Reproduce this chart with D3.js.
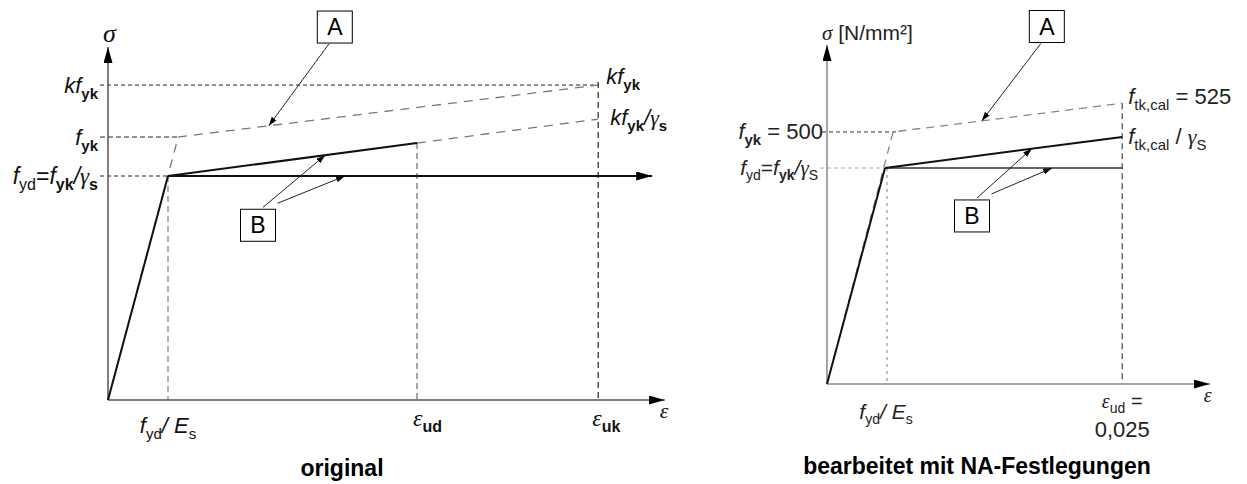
<!DOCTYPE html>
<html>
<head>
<meta charset="utf-8">
<script src="https://cdnjs.cloudflare.com/ajax/libs/d3/7.8.5/d3.min.js"></script>
<style>
body { margin: 0; background: #fff; }
svg text { font-family: "Liberation Sans", Arial, sans-serif; white-space: pre; }
.greek { font-family: "Liberation Serif", "DejaVu Serif", serif; font-style: italic; }
</style>
</head>
<body>
<svg id="chart" width="1247" height="484"></svg>
<script>
// schematic units: strain in multiples of fyd/Es, stress in multiples of fyd

// ---- left diagram: "original"
var leftExtent = [9.28, 1.576];                 // axis lengths (eps, sigma)
var leftElastic = [[0, 0], [1, 1]];
var leftPlateau = [[1, 1], [9.07, 1]];
var leftHardening = [[1, 1], [5.15, 1.147]];
var leftHardeningExt = [[5.15, 1.147], [8.17, 1.254]];
var leftCurveA = [[0, 0], [1.17, 1.174], [8.17, 1.406]];
var leftStrainTicks = [1, 5.15, 8.17];          // fyd/Es, eps_ud, eps_uk
var leftStressTicks = [1.406, 1.174, 1];        // kfyk, fyk, fyd
var leftBoxes = [["A", 3.78, 1.665], ["B", 2.5, 0.78]];
var leftPointers = [["A", 2.68], ["B", 3.62], ["B", 3.95]];   // strain where the arrows hit

// ---- right diagram: "bearbeitet mit NA-Festlegungen"
var rightExtent = [6.6, 1.57];
var rightElastic = [[0, 0], [1, 1]];
var rightPlateau = [[1, 1], [5.09, 1]];
var rightHardening = [[1, 1], [5.09, 1.144]];
var rightCurveA = [[0, 0], [1.14, 1.167], [5.09, 1.30]];
var rightStrainTicks = [1, 5.09];               // fyd/Es, eps_ud = 0,025
var rightStressTicks = [1.167, 1];              // fyk = 500, fyd
var rightBoxes = [["A", 3.79, 1.655], ["B", 2.5, 0.778]];
var rightPointers = [["A", 2.67], ["B", 3.53], ["B", 3.88]];

var svg = d3.select("#chart");
svg.append("rect").attr("width", 1247).attr("height", 484).attr("fill", "#fff");

var defs = svg.append("defs");
function marker(id, w, h, color) {
    defs.append("marker")
        .attr("id", id)
        .attr("viewBox", "0 0 " + w + " " + h)
        .attr("refX", w).attr("refY", h / 2)
        .attr("markerWidth", w).attr("markerHeight", h)
        .attr("markerUnits", "userSpaceOnUse")
        .attr("orient", "auto")
        .append("path")
        .attr("d", "M0,0L" + w + "," + (h / 2) + "L0," + h + "Z")
        .attr("fill", color);
}
marker("axisHead", 16, 9, "#000");
marker("smallHead", 9, 6, "#000");

var line = d3.line();

// rich label: parts = [text, flags]; flags i=italic b=bold g=greek _=subscript
function label(g, x, y, parts, size, anchor, color) {
    var t = g.append("text")
        .attr("x", x).attr("y", y)
        .attr("font-size", size)
        .attr("text-anchor", anchor || "start")
        .attr("fill", color || "#000");
    var off = 0;
    parts.forEach(function(p) {
        var f = p[1] || "";
        var s = t.append("tspan").text(p[0]);
        if (f.indexOf("i") >= 0) s.attr("font-style", "italic");
        if (f.indexOf("b") >= 0) s.attr("font-weight", "bold");
        if (f.indexOf("g") >= 0) s.attr("class", "greek");
        var want = 0;
        if (f.indexOf("_") >= 0) {
            s.attr("font-size", Math.round(size * 0.68));
            want = Math.round(size * 0.25);
        }
        s.attr("dy", want - off);
        off = want;
    });
    return t;
}

function dashed(g, pts, color, dash, w) {
    g.append("path")
        .attr("d", line(pts))
        .attr("fill", "none")
        .attr("stroke", color)
        .attr("stroke-width", w || 1)
        .attr("stroke-dasharray", dash);
}

function solid(g, pts, color, w, head) {
    var p = g.append("path")
        .attr("d", line(pts))
        .attr("fill", "none")
        .attr("stroke", color)
        .attr("stroke-width", w);
    if (head) p.attr("marker-end", "url(#" + head + ")");
    return p;
}

function drawBoxes(g, x, y, boxes, pointers, curves) {
    var bw = 35, bh = 32;
    boxes.forEach(function(b) {
        var cx = x(b[1]), cy = y(b[2]);
        g.append("rect")
            .attr("x", cx - bw / 2).attr("y", cy - bh / 2)
            .attr("width", bw).attr("height", bh)
            .attr("fill", "#fff").attr("stroke", "#000").attr("stroke-width", 1);
        g.append("text")
            .attr("x", cx).attr("y", cy + 8)
            .attr("text-anchor", "middle")
            .attr("font-size", 23)
            .text(b[0]);
    });
    var bBox = boxes[1], aBox = boxes[0];
    pointers.forEach(function(p, i) {
        var target = [x(p[1]), y(curves[i](p[1]))];
        var start;
        if (p[0] === "A") start = [x(aBox[1]) - 6, y(aBox[2]) + bh / 2 + 1];
        else if (i === 1) start = [x(bBox[1]) + 5, y(bBox[2]) - bh / 2 - 2];
        else start = [x(bBox[1]) + bw / 2 + 2, y(bBox[2]) - bh / 2 - 6];
        solid(g, [start, target], "#222", 1, "smallHead");
    });
}

function interp(pts) {
    return function(e) {
        for (var i = 1; i < pts.length; i++) {
            if (e <= pts[i][0]) {
                var a = pts[i - 1], b = pts[i];
                return a[1] + (b[1] - a[1]) * (e - a[0]) / (b[0] - a[0]);
            }
        }
        return pts[pts.length - 1][1];
    };
}

// ================= LEFT =================
(function() {
    var g = svg.append("g");
    var x = d3.scaleLinear().domain([0, 1]).range([108, 168]);
    var y = d3.scaleLinear().domain([0, 1]).range([400, 176]);
    var P = function(d) { return [x(d[0]), y(d[1])]; };
    var x0 = x(0), y0 = y(0);

    // guide lines
    dashed(g, [[x0 - 8, y(leftStressTicks[0])], [x(leftStrainTicks[2]), y(leftStressTicks[0])]], "#222", "4,3");
    dashed(g, [[x0 - 8, y(leftStressTicks[1])], P(leftCurveA[1])], "#222", "5,3");
    dashed(g, [[x0 - 8, y(leftStressTicks[2])], [x(leftStrainTicks[0]), y(leftStressTicks[2])]], "#222", "4,3");
    dashed(g, [[x(leftStrainTicks[0]), y(1)], [x(leftStrainTicks[0]), y0]], "#999", "6,4", 1.5);
    dashed(g, [P(leftHardening[1]), [x(leftStrainTicks[1]), y0]], "#888", "6,4", 1.5);
    dashed(g, [[x(leftStrainTicks[2]), y(leftStressTicks[0]) - 3], [x(leftStrainTicks[2]), y0]], "#222", "6,4", 1.2);

    // curve A (characteristic) and extension
    dashed(g, leftCurveA.map(P), "#777", "9,7", 1.3);
    dashed(g, leftHardeningExt.map(P), "#777", "9,7", 1.3);

    // axes
    solid(g, [[x0, y0], [x0, y(leftExtent[1])]], "#555", 1.5, "axisHead");
    solid(g, [[x0, y0], [x(leftExtent[0]), y0]], "#555", 1.5, "axisHead");

    // design curves B
    solid(g, leftPlateau.map(P), "#111", 2, "axisHead");
    solid(g, leftHardening.map(P), "#111", 2);
    solid(g, leftElastic.map(P), "#111", 2);

    drawBoxes(g, x, y, leftBoxes, leftPointers,
        [interp(leftCurveA), interp(leftHardening), interp(leftPlateau)]);

    // labels
    var c = "#111";
    label(g, x0 - 10, y(leftStressTicks[0]) + 8, [["k", "i"], ["f", "i"], ["yk", "b_"]], 22, "end", c);
    label(g, x0 - 10, y(leftStressTicks[1]) + 8, [["f", "i"], ["yk", "b_"]], 22, "end", c);
    label(g, x0 - 10, y(leftStressTicks[2]) + 8,
        [["f", "i"], ["yd", "_"], ["=", ""], ["f", "i"], ["yk", "b_"], ["/", "i"], ["γ", "g"], ["s", "b_"]], 23, "end", c);
    label(g, x(leftStrainTicks[2]) + 8, y(leftStressTicks[0]) - 1, [["k", "i"], ["f", "i"], ["yk", "b_"]], 22, "start", c);
    label(g, x(leftStrainTicks[2]) + 12, y(leftHardeningExt[1][1]) + 6,
        [["k", "i"], ["f", "i"], ["yk", "b_"], ["/", "i"], ["γ", "g"], ["s", "b_"]], 22, "start", c);
    label(g, x(leftStrainTicks[0]), y0 + 33, [["f", "i"], ["yd", "_"], ["/ ", "i"], ["E", "i"], ["s", "_"]], 22, "middle", c);
    label(g, x(leftStrainTicks[1]) - 4, y0 + 26, [["ε", "g"], ["ud", "b_"]], 24, "start", c);
    label(g, x(leftStrainTicks[2]) - 6, y0 + 26, [["ε", "g"], ["uk", "b_"]], 24, "start", c);
    label(g, x(leftExtent[0]) - 5, y0 + 18, [["ε", "g"]], 22, "start", c);
    label(g, x0 - 5, 42, [["σ", "g"]], 26, "start", c);

    g.append("text").attr("x", 342).attr("y", 476)
        .attr("text-anchor", "middle").attr("font-size", 23).attr("font-weight", "bold")
        .text("original");
})();

// ================= RIGHT =================
(function() {
    var g = svg.append("g");
    var x = d3.scaleLinear().domain([0, 1]).range([827, 885]);
    var y = d3.scaleLinear().domain([0, 1]).range([384, 168]);
    var P = function(d) { return [x(d[0]), y(d[1])]; };
    var x0 = x(0), y0 = y(0);

    dashed(g, [[x0 - 5, y(rightStressTicks[0])], [x(rightCurveA[1][0]) + 4, y(rightStressTicks[0])]], "#333", "4,3");
    dashed(g, [[x0 - 7, y(rightStressTicks[1])], [x(rightStrainTicks[0]), y(rightStressTicks[1])]], "#aaa", "4,3");
    dashed(g, [[x(rightStrainTicks[0]) + 2, y(1)], [x(rightStrainTicks[0]) + 2, y0]], "#aaa", "3,4", 1.5);
    dashed(g, [P(rightCurveA[2]), [x(rightStrainTicks[1]), y0]], "#444", "6,4", 1.2);

    dashed(g, rightCurveA.map(P), "#888", "8,6", 1.3);

    solid(g, [[x0, y0], [x0, y(rightExtent[1])]], "#888", 1.5, "axisHead");
    solid(g, [[x0, y0], [x(rightExtent[0]), y0]], "#888", 1.5, "axisHead");

    solid(g, rightPlateau.map(P), "#333", 1.6);
    solid(g, rightHardening.map(P), "#111", 2);
    solid(g, rightElastic.map(P), "#111", 2);

    drawBoxes(g, x, y, rightBoxes, rightPointers,
        [interp(rightCurveA), interp(rightHardening), interp(rightPlateau)]);

    var c = "#222";
    label(g, x0 - 4, y(rightStressTicks[0]) + 7, [["f", "i"], ["yk", "b_"], [" = 500", ""]], 22, "end", c);
    label(g, x0 - 9, y(rightStressTicks[1]) + 7,
        [["f", "i"], ["yd", "_"], ["=", ""], ["f", "i"], ["yk", "b_"], ["/", "i"], ["γ", "g"], ["S", "_"]], 21, "end", c);
    label(g, x0 - 5, 40, [["σ", "g"], [" [N/mm²]", ""]], 21, "start", c);
    label(g, x(rightStrainTicks[1]) + 6, y(rightCurveA[2][1]) + 1, [["f", "i"], ["tk,cal", "_"], [" = 525", ""]], 22, "start", c);
    label(g, x(rightStrainTicks[1]) + 6, y(rightHardening[1][1]) + 7,
        [["f", "i"], ["tk,cal", "_"], [" / ", ""], ["γ", "g"], ["S", "_"]], 22, "start", c);
    label(g, x(rightStrainTicks[1]), y0 + 24, [["ε", "g"], ["ud", "_"], [" =", ""]], 20, "middle", c);
    label(g, x(rightStrainTicks[1]), y0 + 53, [["0,025", ""]], 22, "middle", c);
    label(g, x(rightStrainTicks[0]) + 1, y0 + 35, [["f", "i"], ["yd", "_"], ["/ ", "i"], ["E", "i"], ["s", "_"]], 21, "middle", c);
    label(g, x(rightExtent[0]) - 6, y0 + 18, [["ε", "g"]], 20, "start", c);

    g.append("text").attr("x", 977).attr("y", 474)
        .attr("text-anchor", "middle").attr("font-size", 23).attr("font-weight", "bold")
        .text("bearbeitet mit NA-Festlegungen");
})();
</script>
</body>
</html>
